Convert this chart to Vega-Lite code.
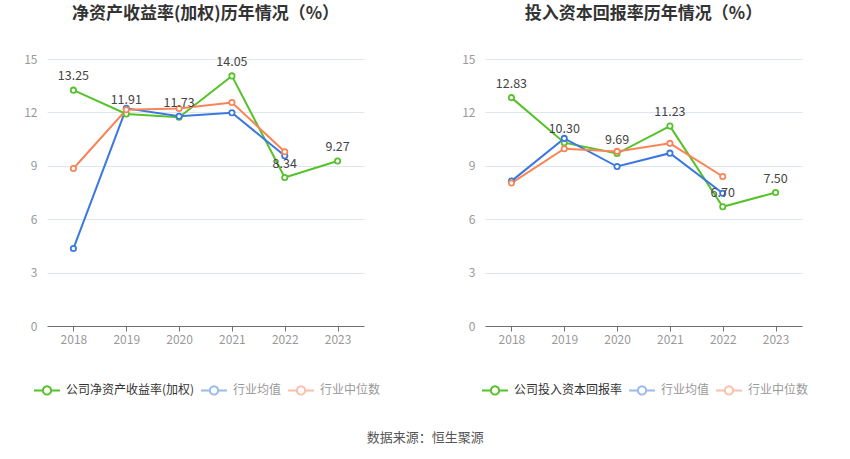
{
  "$schema": "https://vega.github.io/schema/vega-lite/v6.json",
  "background": "white",
  "padding": {"left": 23, "top": 5, "right": 5, "bottom": 5},
  "config": {
    "font": "Noto Sans CJK SC",
    "view": {"stroke": null},
    "axisX": {"domainColor": "#6e7079", "tickColor": "#6e7079", "tickSize": 5, "labelColor": "#999", "labelFontSize": 12, "labelPadding": 3, "labelAngle": 0, "title": null, "grid": false},
    "axisY": {"domain": false, "ticks": false, "gridColor": "#e0e6f1", "labelColor": "#999", "labelFontSize": 12, "labelPadding": 10, "title": null},
    "legend": {"labelFontSize": 12, "labelColor": "#333", "labelOffset": 5, "columnPadding": 2, "symbolSize": 676, "symbolStrokeWidth": 2, "symbolFillColor": "white", "symbolType": "M-1,0L-0.32,0M0.32,0L1,0M0.32,0A0.32,0.32,0,1,1,-0.32,0A0.32,0.32,0,1,1,0.32,0"}
  },
  "datasets": {
    "rows": [
      {"panel": "roe", "year": "2018", "series": "公司净资产收益率(加权)", "value": 13.25},
      {"panel": "roe", "year": "2019", "series": "公司净资产收益率(加权)", "value": 11.91},
      {"panel": "roe", "year": "2020", "series": "公司净资产收益率(加权)", "value": 11.73},
      {"panel": "roe", "year": "2021", "series": "公司净资产收益率(加权)", "value": 14.05},
      {"panel": "roe", "year": "2022", "series": "公司净资产收益率(加权)", "value": 8.34},
      {"panel": "roe", "year": "2023", "series": "公司净资产收益率(加权)", "value": 9.27},
      {"panel": "roe", "year": "2018", "series": "行业均值", "value": 4.35},
      {"panel": "roe", "year": "2019", "series": "行业均值", "value": 12.23},
      {"panel": "roe", "year": "2020", "series": "行业均值", "value": 11.78},
      {"panel": "roe", "year": "2021", "series": "行业均值", "value": 11.98},
      {"panel": "roe", "year": "2022", "series": "行业均值", "value": 9.56},
      {"panel": "roe", "year": "2018", "series": "行业中位数", "value": 8.85},
      {"panel": "roe", "year": "2019", "series": "行业中位数", "value": 12.15},
      {"panel": "roe", "year": "2020", "series": "行业中位数", "value": 12.22},
      {"panel": "roe", "year": "2021", "series": "行业中位数", "value": 12.56},
      {"panel": "roe", "year": "2022", "series": "行业中位数", "value": 9.79},
      {"panel": "roic", "year": "2018", "series": "公司投入资本回报率", "value": 12.83},
      {"panel": "roic", "year": "2019", "series": "公司投入资本回报率", "value": 10.30},
      {"panel": "roic", "year": "2020", "series": "公司投入资本回报率", "value": 9.69},
      {"panel": "roic", "year": "2021", "series": "公司投入资本回报率", "value": 11.23},
      {"panel": "roic", "year": "2022", "series": "公司投入资本回报率", "value": 6.70},
      {"panel": "roic", "year": "2023", "series": "公司投入资本回报率", "value": 7.50},
      {"panel": "roic", "year": "2018", "series": "行业均值", "value": 8.14},
      {"panel": "roic", "year": "2019", "series": "行业均值", "value": 10.54},
      {"panel": "roic", "year": "2020", "series": "行业均值", "value": 8.96},
      {"panel": "roic", "year": "2021", "series": "行业均值", "value": 9.71},
      {"panel": "roic", "year": "2022", "series": "行业均值", "value": 7.46},
      {"panel": "roic", "year": "2018", "series": "行业中位数", "value": 8.03},
      {"panel": "roic", "year": "2019", "series": "行业中位数", "value": 9.96},
      {"panel": "roic", "year": "2020", "series": "行业中位数", "value": 9.81},
      {"panel": "roic", "year": "2021", "series": "行业中位数", "value": 10.26},
      {"panel": "roic", "year": "2022", "series": "行业中位数", "value": 8.40}
    ]
  },
  "title": {"text": "数据来源：恒生聚源", "orient": "bottom", "anchor": "middle", "fontSize": 13, "fontWeight": "normal", "color": "#555", "offset": 33, "dx": 9},
  "spacing": 80,
  "resolve": {"scale": {"stroke": "independent"}},
  "hconcat": [
    {
      "width": 317,
      "height": 267,
      "title": {"text": "净资产收益率(加权)历年情况（%）", "fontSize": 17, "fontWeight": "bold", "color": "#333", "anchor": "middle", "frame": "group", "offset": 30},
      "data": {"name": "rows"},
      "transform": [{"filter": "datum.panel === 'roe'"}],
      "encoding": {
        "x": {"field": "year", "type": "ordinal", "scale": {"type": "point", "padding": 0.5}},
        "y": {"field": "value", "type": "quantitative", "scale": {"domain": [0, 15], "nice": false}, "axis": {"values": [0, 3, 6, 9, 12, 15]}}
      },
      "layer": [
        {
          "mark": {"type": "line", "strokeWidth": 2},
          "encoding": {
            "stroke": {
              "field": "series", "type": "nominal", "sort": null,
              "scale": {"domain": ["公司净资产收益率(加权)", "行业均值", "行业中位数"], "range": ["#56c22b", "#3a78e0", "#f88458"]},
              "legend": {
                "orient": "none", "direction": "horizontal", "legendX": -14, "legendY": 317, "title": null,
                "encode": {
                  "labels": {"update": {"fill": {"signal": "datum.label === '行业均值' || datum.label === '行业中位数' ? '#999' : '#333'"}}},
                  "symbols": {"update": {"opacity": {"signal": "datum.label === '行业均值' || datum.label === '行业中位数' ? 0.5 : 1"}}}
                }
              }
            }
          }
        },
        {
          "mark": {"type": "point", "filled": true, "fill": "white", "size": 28, "strokeWidth": 1.8, "opacity": 1},
          "encoding": {"stroke": {"field": "series", "type": "nominal", "sort": null}}
        },
        {
          "transform": [{"filter": "datum.series === '公司净资产收益率(加权)'"}],
          "mark": {"type": "text", "baseline": "bottom", "dy": -7, "fontSize": 12.5, "color": "#444"},
          "encoding": {"text": {"field": "value", "type": "quantitative", "format": ".2f"}}
        }
      ]
    },
    {
      "width": 317,
      "height": 267,
      "title": {"text": "投入资本回报率历年情况（%）", "fontSize": 17, "fontWeight": "bold", "color": "#333", "anchor": "middle", "frame": "group", "offset": 30},
      "data": {"name": "rows"},
      "transform": [{"filter": "datum.panel === 'roic'"}],
      "encoding": {
        "x": {"field": "year", "type": "ordinal", "scale": {"type": "point", "padding": 0.5}},
        "y": {"field": "value", "type": "quantitative", "scale": {"domain": [0, 15], "nice": false}, "axis": {"values": [0, 3, 6, 9, 12, 15]}}
      },
      "layer": [
        {
          "mark": {"type": "line", "strokeWidth": 2},
          "encoding": {
            "stroke": {
              "field": "series", "type": "nominal", "sort": null,
              "scale": {"domain": ["公司投入资本回报率", "行业均值", "行业中位数"], "range": ["#56c22b", "#3a78e0", "#f88458"]},
              "legend": {
                "orient": "none", "direction": "horizontal", "legendX": -4, "legendY": 317, "title": null,
                "encode": {
                  "labels": {"update": {"fill": {"signal": "datum.label === '行业均值' || datum.label === '行业中位数' ? '#999' : '#333'"}}},
                  "symbols": {"update": {"opacity": {"signal": "datum.label === '行业均值' || datum.label === '行业中位数' ? 0.5 : 1"}}}
                }
              }
            }
          }
        },
        {
          "mark": {"type": "point", "filled": true, "fill": "white", "size": 28, "strokeWidth": 1.8, "opacity": 1},
          "encoding": {"stroke": {"field": "series", "type": "nominal", "sort": null}}
        },
        {
          "transform": [{"filter": "datum.series === '公司投入资本回报率'"}],
          "mark": {"type": "text", "baseline": "bottom", "dy": -7, "fontSize": 12.5, "color": "#444"},
          "encoding": {"text": {"field": "value", "type": "quantitative", "format": ".2f"}}
        }
      ]
    }
  ]
}
